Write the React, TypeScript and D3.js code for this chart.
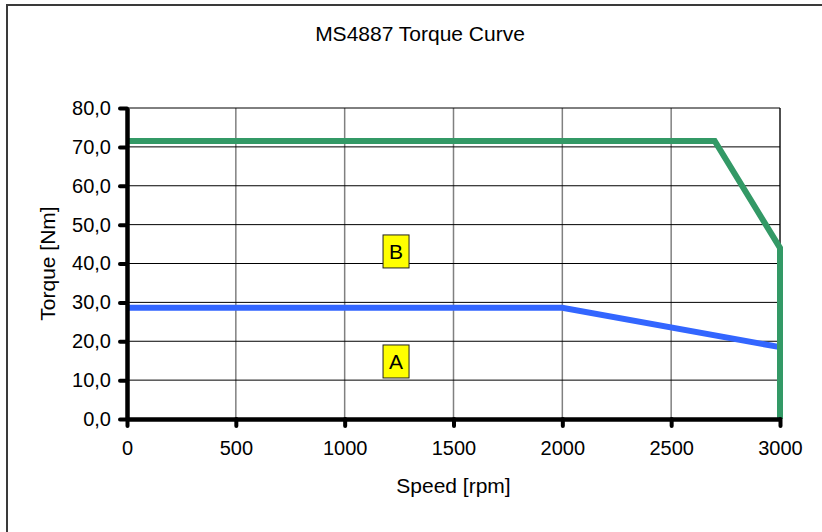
import React, { useEffect, useRef } from 'react'
import * as d3 from 'd3'

// curve A (blue) and curve B (green), speed in rpm, torque in Nm
const curveASpeed = [0, 2000, 3000]
const curveATorque = [28.6, 28.6, 18.5]
const curveBSpeed = [0, 2700, 3000, 3000]
const curveBTorque = [71.5, 71.5, 44, 0]

const speedTicks = [0, 500, 1000, 1500, 2000, 2500, 3000]
const torqueTicks = [0, 10, 20, 30, 40, 50, 60, 70, 80]

// region labels placed in data coordinates
const regionNames = ['A', 'B']
const regionSpeed = [1236, 1236]
const regionTorque = [14.8, 43.1]

const W = 822
const H = 532
const FONT = '"Liberation Sans", Arial, sans-serif'

const App = () => {
	const ref = useRef<SVGSVGElement>(null)

	useEffect(() => {
		const svg = d3.select(ref.current)
		svg.selectAll('*').remove()

		const left = 127,
			right = 780,
			top = 108,
			bottom = 419

		const x = d3.scaleLinear().domain([0, 3000]).range([left, right])
		const y = d3.scaleLinear().domain([0, 80]).range([bottom, top])
		const comma = d3.formatLocale({ decimal: ',', thousands: '.', grouping: [3], currency: ['', ''] })

		// outer chart frame
		svg.append('rect')
			.attr('x', 7)
			.attr('y', 5)
			.attr('width', 840)
			.attr('height', 560)
			.attr('fill', 'white')
			.attr('stroke', '#3a3a3a')
			.attr('stroke-width', 2)

		svg.append('text')
			.attr('x', 420)
			.attr('y', 41)
			.attr('text-anchor', 'middle')
			.style('font-family', FONT)
			.style('font-size', '21px')
			.text('MS4887 Torque Curve')

		const grid = svg.append('g')
		grid.selectAll('.vgrid')
			.data(speedTicks.slice(1))
			.enter()
			.append('line')
			.attr('x1', d => x(d))
			.attr('x2', d => x(d))
			.attr('y1', top)
			.attr('y2', bottom)
			.attr('stroke', '#808080')
			.attr('stroke-width', 1.5)
		grid.selectAll('.hgrid')
			.data(torqueTicks.slice(1))
			.enter()
			.append('line')
			.attr('x1', left)
			.attr('x2', right)
			.attr('y1', d => y(d))
			.attr('y2', d => y(d))
			.attr('stroke', '#000')
			.attr('stroke-width', 1)

		// right border of plot area
		svg.append('line')
			.attr('x1', right)
			.attr('x2', right)
			.attr('y1', top)
			.attr('y2', bottom)
			.attr('stroke', '#000')
			.attr('stroke-width', 1)

		const line = d3.line<[number, number]>()
			.x(d => x(d[0]))
			.y(d => y(d[1]))

		svg.append('path')
			.attr('d', line(curveASpeed.map((s, i) => [s, curveATorque[i]])))
			.attr('fill', 'none')
			.attr('stroke', '#3366FF')
			.attr('stroke-width', 6)

		svg.append('path')
			.attr('d', line(curveBSpeed.map((s, i) => [s, curveBTorque[i]])))
			.attr('fill', 'none')
			.attr('stroke', '#339966')
			.attr('stroke-width', 6)

		// region labels
		const labels = svg.selectAll('.region')
			.data(regionNames)
			.enter()
			.append('g')
			.attr('transform', (d, i) => `translate(${x(regionSpeed[i])},${y(regionTorque[i])})`)
		labels.append('rect')
			.attr('x', -13)
			.attr('y', -16.5)
			.attr('width', 26)
			.attr('height', 33)
			.attr('fill', '#FFFF00')
			.attr('stroke', '#222')
			.attr('stroke-width', 1)
		labels.append('text')
			.attr('text-anchor', 'middle')
			.attr('y', 8)
			.style('font-family', FONT)
			.style('font-size', '21px')
			.text(d => d)

		// axes
		const xAxis = svg.append('g')
			.attr('transform', `translate(0,${bottom})`)
			.call(d3.axisBottom(x).tickValues(speedTicks).tickSize(7).tickSizeOuter(0).tickPadding(15).tickFormat(d3.format('d')))
		const yAxis = svg.append('g')
			.attr('transform', `translate(${left},0)`)
			.call(d3.axisLeft(y).tickValues(torqueTicks).tickSize(7).tickSizeOuter(0).tickPadding(9).tickFormat(comma.format('.1f')))

		for (const ax of [xAxis, yAxis]) {
			ax.select('.domain').attr('stroke', '#000').attr('stroke-width', 4.5)
			ax.selectAll('.tick line').attr('stroke', '#000').attr('stroke-width', 4).attr('stroke-linecap', 'round')
			ax.selectAll('.tick text').attr('fill', '#000').style('font-family', FONT).style('font-size', '20px')
		}

		svg.append('text')
			.attr('x', (left + right) / 2)
			.attr('y', 493)
			.attr('text-anchor', 'middle')
			.style('font-family', FONT)
			.style('font-size', '21px')
			.text('Speed [rpm]')

		svg.append('text')
			.attr('transform', `translate(55,${(top + bottom) / 2}) rotate(-90)`)
			.attr('text-anchor', 'middle')
			.style('font-family', FONT)
			.style('font-size', '21px')
			.text('Torque [Nm]')
	}, [])

	return (
		<div style={{ position: 'absolute', left: 0, top: 0 }}>
			<svg ref={ref} width={W} height={H} style={{ display: 'block' }}></svg>
		</div>
	)
}

export default App
